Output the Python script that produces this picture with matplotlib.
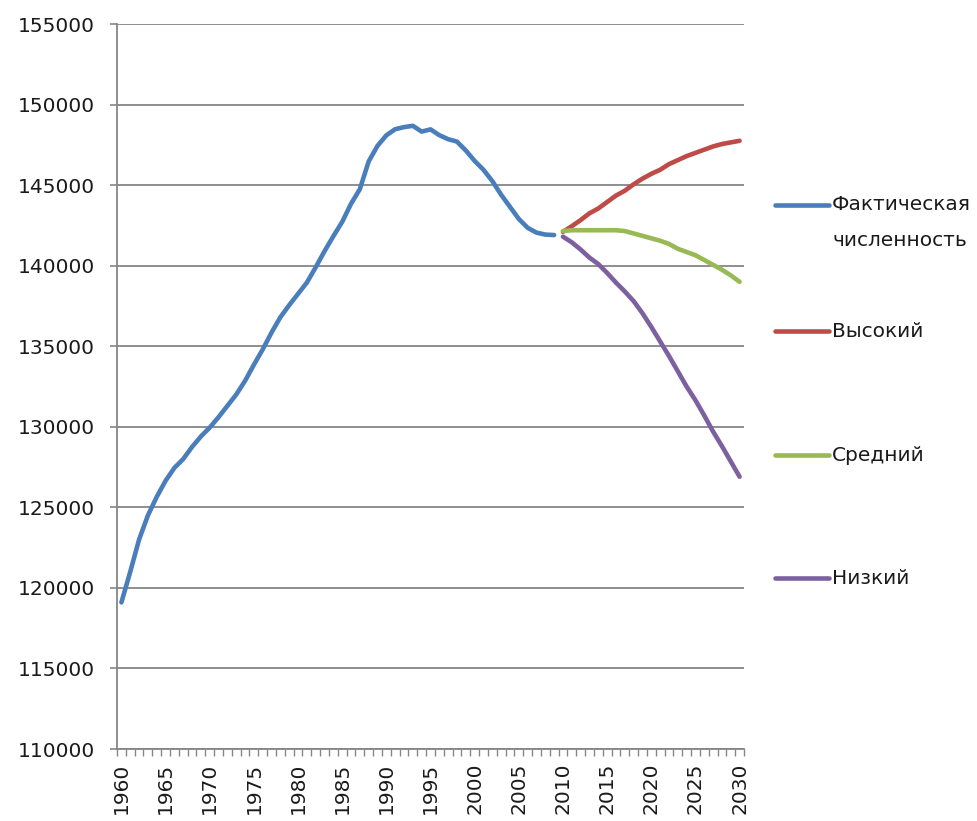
import matplotlib
matplotlib.use("Agg")
import matplotlib.pyplot as plt
from matplotlib.lines import Line2D
import numpy as np

# ---- data ----
years_actual = list(range(1960, 2010))
actual = [119100, 121000, 123000, 124500, 125650, 126650, 127450, 128000, 128750, 129400,
          129950, 130600, 131300, 132000, 132850, 133850, 134800, 135850, 136800, 137550,
          138250, 138950, 139900, 140900, 141830, 142720, 143840, 144750, 146470, 147440,
          148090, 148470, 148600, 148680, 148320, 148460, 148100, 147850, 147700, 147150,
          146500, 145950, 145250, 144400, 143650, 142900, 142350, 142050, 141930, 141900]

years_fc = list(range(2010, 2031))
high = [142100, 142450, 142830, 143250, 143550, 143950, 144350, 144650, 145050, 145400,
        145700, 145950, 146300, 146550, 146800, 147000, 147200, 147400, 147550, 147650, 147750]
medium = [142150, 142200, 142200, 142200, 142200, 142200, 142200, 142150, 142000, 141850,
          141700, 141550, 141350, 141050, 140850, 140650, 140350, 140050, 139750, 139400, 139000]
low = [141800, 141450, 141000, 140500, 140100, 139550, 138950, 138400, 137800, 137050,
       136200, 135300, 134400, 133450, 132500, 131650, 130700, 129700, 128800, 127850, 126900]

labels = ["Фактическая\nчисленность", "Высокий", "Средний", "Низкий"]
colors = ["#4A7EBB", "#BE4B48", "#98B954", "#7D60A0"]

y_ticks = list(range(110000, 155001, 5000))
x_label_years = list(range(1960, 2031, 5))

# ---- figure ----
W, H = 977, 821
FS = 14.5
fig = plt.figure(figsize=(W / 100, H / 100), dpi=100)
ax = fig.add_axes([117 / W, 1 - 749 / H, (744 - 117) / W, (749 - 24) / H])

series = [(years_actual, actual), (years_fc, high), (years_fc, medium), (years_fc, low)]
for (xs, ys), c in zip(series, colors):
    ax.plot(xs, ys, color=c, lw=3.3, solid_capstyle="round", solid_joinstyle="round", zorder=3)

ax.set_xlim(1959.5, 2030.5)
ax.set_ylim(110000, 155000)
ax.set_yticks(y_ticks)
ax.set_yticklabels([str(v) for v in y_ticks])
ax.set_xticks(x_label_years)
ax.set_xticklabels([str(v) for v in x_label_years], rotation=90)
ax.set_xticks(np.arange(1959.5, 2031, 1.0), minor=True)

grey = "#868686"
ax.yaxis.grid(True, color=grey, lw=1.3)
ax.set_axisbelow(True)
for s in ["top", "right"]:
    ax.spines[s].set_visible(False)
for s in ["left", "bottom"]:
    ax.spines[s].set_color(grey)
    ax.spines[s].set_linewidth(1.3)

ax.tick_params(axis="y", which="major", length=5, color=grey, width=1.2, pad=11,
               labelsize=FS, labelcolor="#1a1a1a")
ax.tick_params(axis="x", which="major", length=0, pad=10, labelsize=FS, labelcolor="#1a1a1a")
ax.tick_params(axis="x", which="minor", length=5, color=grey, width=1.0)

# ---- legend (manual, to match layout) ----
leg_y = [205, 331, 455, 578]
for lab, c, py in zip(labels, colors, leg_y):
    yf = 1 - py / H
    fig.add_artist(Line2D([775 / W, 829 / W], [yf, yf], color=c, lw=3.3,
                          solid_capstyle="round", transform=fig.transFigure))
    for i, line in enumerate(lab.split("\n")):
        fig.text(832 / W, 1 - (py + 35 * i) / H, line, fontsize=FS, color="#1a1a1a",
                 va="center", ha="left")

fig.savefig("out.png", dpi=100)
